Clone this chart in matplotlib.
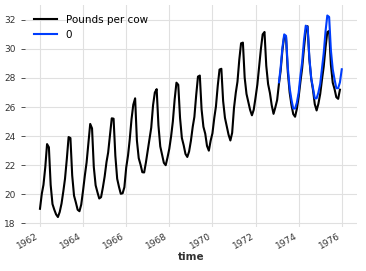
import matplotlib
matplotlib.use("agg")
from matplotlib import pyplot as plt
import matplotlib.dates as mdates
import numpy as np
import pandas as pd

# monthly milk production (pounds per cow), Jan 1962 - Dec 1975
milk = [
    589, 561, 640, 656, 727, 697, 640, 599, 568, 577, 553, 582,
    600, 566, 653, 673, 742, 716, 660, 617, 583, 587, 565, 598,
    628, 618, 688, 705, 770, 736, 678, 639, 604, 611, 594, 634,
    658, 622, 709, 722, 782, 756, 702, 653, 615, 621, 602, 635,
    677, 635, 736, 755, 811, 798, 735, 697, 661, 667, 645, 688,
    713, 667, 762, 784, 837, 817, 767, 722, 681, 687, 660, 698,
    717, 696, 775, 796, 858, 826, 783, 740, 701, 706, 677, 711,
    734, 690, 785, 805, 871, 845, 801, 764, 725, 723, 690, 734,
    750, 707, 807, 824, 886, 859, 819, 783, 740, 747, 711, 751,
    804, 756, 860, 878, 942, 913, 869, 834, 790, 800, 763, 800,
    826, 799, 890, 900, 961, 935, 894, 855, 809, 810, 766, 805,
    821, 773, 883, 898, 957, 924, 881, 837, 784, 791, 760, 802,
    828, 778, 889, 902, 969, 947, 908, 867, 815, 812, 773, 813,
    834, 782, 892, 903, 966, 937, 896, 858, 817, 827, 797, 843,
]
dates = pd.date_range("1962-01-01", periods=len(milk), freq="MS")
per_day = np.array(milk) / dates.days_in_month.values

# forecast (pounds per cow per day), Feb 1973 - Jan 1976
forecast = [
    27.7, 28.7, 30.1, 31.0, 30.9, 28.7, 27.3, 26.5, 25.9, 25.9, 26.3,
    27.0, 28.2, 29.1, 30.6, 31.6, 31.5, 29.4, 28.0, 27.3, 26.6, 26.6, 27.0,
    27.6, 28.7, 29.7, 31.2, 32.3, 32.2, 29.9, 28.6, 27.9, 27.3, 27.3, 27.7,
    28.6,
]
fc_dates = pd.date_range("1973-02-01", periods=len(forecast), freq="MS")

fig = plt.figure(figsize=(3.66, 2.71), dpi=100)
ax = fig.add_axes([0.068, 0.162, 0.907, 0.818])
ax.plot(dates, per_day, color="#000000", lw=1.5, label="Pounds per cow")
ax.plot(fc_dates, forecast, color="#003DFD", lw=1.5, label="0")

for s in ax.spines.values():
    s.set_visible(False)
ax.grid(True, color="#e0e0e0", lw=0.8)
ax.set_axisbelow(True)
ax.xaxis.set_major_locator(mdates.YearLocator(2))
ax.xaxis.set_major_formatter(mdates.DateFormatter("%Y"))
ax.set_yticks(np.arange(18, 33, 2))
ax.tick_params(axis="x", length=0, labelsize=6.5, labelcolor="#333333", pad=3)
ax.tick_params(axis="y", length=3, width=0.6, color="#333333", labelsize=6.5, labelcolor="#333333")
plt.setp(ax.get_xticklabels(), rotation=30, ha="right")
ax.set_xlabel("time", fontsize=7.5, fontweight="bold", color="#333333", labelpad=1)
ax.legend(loc="upper left", frameon=False, fontsize=7.5, handlelength=2.2)

fig.savefig("out.png", dpi=100)
